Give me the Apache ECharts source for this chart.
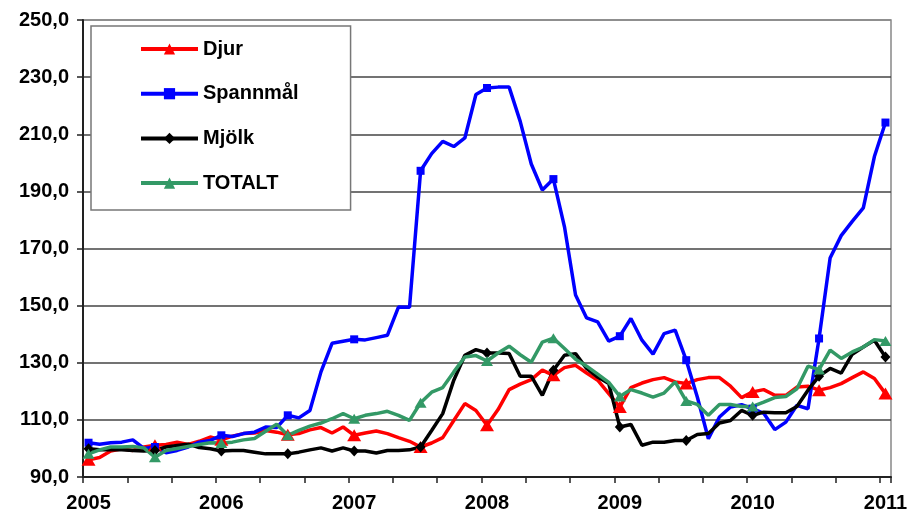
<!DOCTYPE html>
<html><head><meta charset="utf-8">
<script src="https://cdn.jsdelivr.net/npm/echarts@6/dist/echarts.min.js"></script>
<style>html,body{margin:0;padding:0;background:#fff}#c{width:914px;height:520px}</style>
</head><body><div id="c"></div>
<script>
const years = ['2005','2006','2007','2008','2009','2010','2011'];
const yTicks = [90,110,130,150,170,190,210,230,250];
// monthly categories Jan 2005 .. Jan 2011
const categories = [];
years.forEach(function(y){ for (let m = 1; m <= 12; m++) { if (y === '2011' && m > 1) break; categories.push(y + '-' + (m < 10 ? '0' + m : m)); } });

const djur = [96, 96.8, 99.1, 99.9, 99.3, 100.5, 101.1, 101.4, 102.2, 101.4,
  102.5, 104, 103, 104.3, 105.2, 105.4, 106.3, 105.7, 104.8, 105.2,
  106.5, 107.3, 105.4, 107.5, 104.6, 105.4, 106.1, 105.2, 103.8, 102.5,
  100.5, 101.9, 103.8, 109.8, 115.7, 113.3, 108.1, 113.6, 120.6, 122.5,
  124.1, 127.4, 125.6, 128.3, 129.1, 126.4, 123.9, 119.2, 114.5, 121.3,
  122.9, 124.1, 124.8, 123.3, 122.7, 124.1, 124.8, 124.8, 121.8, 117.8,
  119.8, 120.6, 118.6, 118.6, 121.5, 121.8, 120.4, 121.3, 122.7, 124.8,
  126.8, 124.5, 119.2];
const spannmal = [102, 101.5, 102, 102.2, 103, 100, 100.5, 98.5, 99.3, 100.5,
  102.2, 102.8, 104.6, 104.2, 105.2, 105.7, 107.5, 107.3, 111.6, 110.7,
  113.3, 126.8, 136.8, 137.5, 138.2, 138, 138.8, 139.6, 149.5, 149.4,
  197.2, 203.2, 207.5, 205.7, 208.7, 223.9, 226.2, 226.5, 226.5, 214.5,
  199.6, 190.5, 194.3, 177.6, 153.7, 145.7, 144.3, 137.6, 139.3, 145.5,
  137.9, 133, 140.2, 141.4, 130.9, 118, 103.4, 111, 114.5, 115.3,
  113.9, 112.3, 106.6, 109.2, 115.1, 113.9, 138.5, 166.7, 174.5, 179.5,
  184.2, 202.2, 214.1];
const mjolk = [99.9, 99.5, 99.5, 99.5, 99.3, 99.1, 99.3, 100.5, 101, 101.5,
  100.3, 99.9, 99.1, 99.3, 99.3, 98.7, 98.1, 98.1, 98.1, 98.7,
  99.5, 100.2, 99.1, 100.2, 99.1, 99.1, 98.4, 99.3, 99.3, 99.5,
  100.5, 106.3, 112.2, 123.9, 132.6, 134.6, 133.4, 133.4, 133.2, 125.3,
  125.3, 118.6, 127.4, 132.6, 133.2, 128, 125, 122.7, 107.5, 108.4,
  101.1, 102.2, 102.2, 102.8, 102.8, 104.9, 105.2, 108.9, 109.8, 113.3,
  111.6, 112.7, 112.5, 112.5, 114.7, 120.4, 125.3, 128, 126.4, 133,
  135.5, 137.9, 132];
const totalt = [98.1, 99.5, 100.5, 100.5, 100.7, 100.2, 96.9, 99.3, 100, 100.7,
  101.4, 102, 101.9, 102.2, 103, 103.5, 106, 108.5, 104.6, 106.3,
  107.8, 108.9, 110.4, 112.2, 110.4, 111.6, 112.2, 113, 111.6, 109.8,
  116, 119.7, 121.3, 126.8, 132, 132.5, 130.6, 133.4, 135.8, 132.8,
  130.2, 137.2, 138.6, 135, 131.2, 128.8, 126, 123.1, 118.2, 120.6,
  119.4, 118, 119.4, 123.3, 116.6, 115.4, 111.6, 115.4, 115.4, 114.7,
  114.7, 116.2, 117.8, 118.2, 120.9, 128.8, 127.6, 134.4, 131.5, 133.8,
  135.5, 138.1, 137.6];

const FONT = 'Liberation Sans, Arial, sans-serif';
function mk(size){ return function(v, p){ return p.dataIndex % 6 === 0 ? size : 0; }; }
function series(name, data, color, symbol, size){
  return { name: name, type: 'line', data: data, color: color,
    symbol: symbol, symbolSize: mk(size), showSymbol: true, showAllSymbol: true,
    lineStyle: { width: 3.5, color: color }, itemStyle: { color: color },
    emphasis: { disabled: true }, z: 3 };
}
const chart = echarts.init(document.getElementById('c'), null, { renderer: 'canvas' });
chart.setOption({
  animation: false,
  backgroundColor: '#fff',
  grid: { left: 83, right: 23, top: 20, bottom: 43, show: true, borderColor: '#888', borderWidth: 1.5, backgroundColor: 'transparent' },
  legend: {
    orient: 'vertical', left: 91, top: 26,
    padding: [13, 52, 17, 48], itemGap: 24.7, itemWidth: 57, itemHeight: 14,
    backgroundColor: '#fff', borderColor: '#777', borderWidth: 1.5, borderRadius: 0,
    lineStyle: { width: 4 },
    textStyle: { fontFamily: FONT, fontWeight: 'bold', fontSize: 20, color: '#000', lineHeight: 20 },
    data: ['Djur', 'Spannmål', 'Mjölk', 'TOTALT']
  },
  xAxis: {
    type: 'category', data: categories, boundaryGap: true,
    axisLine: { show: true, lineStyle: { color: '#222', width: 2 } },
    axisTick: { show: true, length: 6, lineStyle: { color: '#222', width: 1.5 }, interval: function(i){ return i % 4 === 0; } },
    axisLabel: { interval: function(i){ return i % 12 === 0; }, formatter: function(v){ return v.slice(0,4); },
      fontFamily: FONT, fontWeight: 'bold', fontSize: 20, color: '#000', margin: 16 },
    splitLine: { show: false }
  },
  yAxis: {
    type: 'value', min: yTicks[0], max: yTicks[yTicks.length-1], interval: 20,
    axisLine: { show: true, lineStyle: { color: '#222', width: 2 } },
    axisTick: { show: true, length: 6, lineStyle: { color: '#222', width: 1.5 } },
    axisLabel: { formatter: function(v){ return v.toFixed(1).replace('.', ','); },
      fontFamily: FONT, fontWeight: 'bold', fontSize: 20, color: '#000', margin: 14 },
    splitLine: { show: true, lineStyle: { color: ['#444','#444','#444','#444','#444','#444','#444','#444','#888'], width: 1.5 } }
  },
  series: [
    series('Djur', djur, '#ff0000', 'triangle', [14, 12]),
    series('Spannmål', spannmal, '#0000ff', 'rect', 8),
    series('Mjölk', mjolk, '#000000', 'diamond', [10, 11]),
    series('TOTALT', totalt, '#339966', 'triangle', [12, 10])
  ]
});
</script></body></html>
